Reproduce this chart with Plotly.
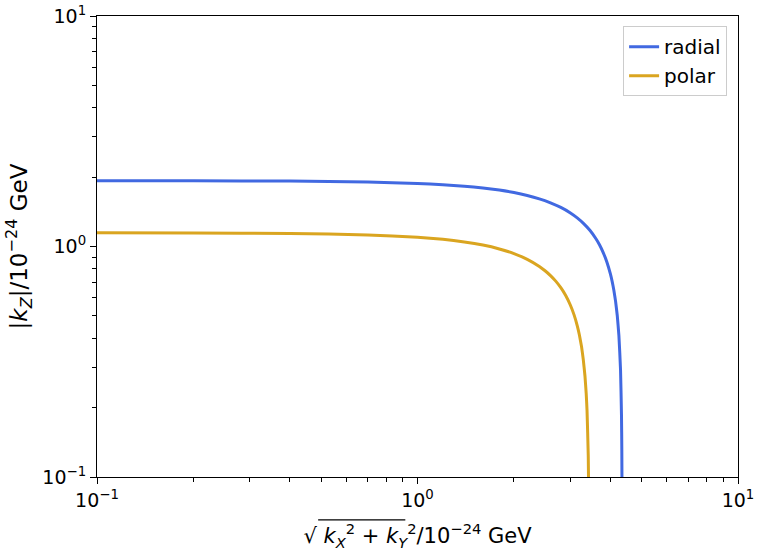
import plotly.graph_objects as go

# Values
radial_x = [0.1, 0.2, 0.4, 0.7, 1.0, 1.2, 1.4, 1.6, 1.8, 2.0, 2.2, 2.4, 2.6, 2.8, 3.0, 3.15, 3.3,
            3.45, 3.6, 3.7, 3.8, 3.9, 4.0, 4.05, 4.1, 4.15, 4.2, 4.25, 4.3, 4.33, 4.34, 4.345]
radial_y = [1.93, 1.928, 1.922, 1.905, 1.878, 1.855, 1.827, 1.795, 1.757, 1.714, 1.665, 1.610,
            1.547, 1.477, 1.398, 1.331, 1.257, 1.176, 1.083, 1.015, 0.939, 0.855, 0.758, 0.704,
            0.645, 0.578, 0.502, 0.411, 0.292, 0.185, 0.131, 0.0926]

polar_x = [0.1, 0.2, 0.4, 0.7, 1.0, 1.2, 1.4, 1.6, 1.8, 2.0, 2.2, 2.4, 2.5, 2.6, 2.7, 2.8, 2.9,
           3.0, 3.08, 3.15, 3.2, 3.25, 3.29, 3.33, 3.36, 3.38, 3.41, 3.42]
polar_y = [1.146, 1.145, 1.139, 1.123, 1.097, 1.0745, 1.047, 1.0146, 0.976, 0.932, 0.880, 0.8195,
           0.785, 0.748, 0.7074, 0.6625, 0.6125, 0.556, 0.505, 0.454, 0.413, 0.367, 0.324, 0.275,
           0.2305, 0.195, 0.124, 0.0875]

major_vals = [0.1, 1, 10]
major_text = ["10<sup>−1</sup>", "10<sup>0</sup>", "10<sup>1</sup>"]
minor_vals = [0.2, 0.3, 0.4, 0.5, 0.6, 0.7, 0.8, 0.9, 2, 3, 4, 5, 6, 7, 8, 9]

FONT = "DejaVu Sans"

fig = go.Figure()
fig.add_trace(go.Scatter(x=radial_x, y=radial_y, mode="lines", name="radial",
                         line=dict(color="#4169E1", width=3, shape="spline", smoothing=0.4)))
fig.add_trace(go.Scatter(x=polar_x, y=polar_y, mode="lines", name="polar",
                         line=dict(color="#DAA520", width=3, shape="spline", smoothing=0.4)))

axis_common = dict(
    type="log", showgrid=False, zeroline=False, automargin=False,
    showline=True, linecolor="black", linewidth=1.2, mirror=True,
    ticks="outside", ticklen=6, tickwidth=1.2, tickcolor="black",
    tickvals=major_vals, ticktext=major_text,
    tickfont=dict(family=FONT, size=19, color="black"),
    minor=dict(ticks="outside", ticklen=3.5, tickwidth=1, tickcolor="black",
               tickvals=minor_vals),
)

fig.update_xaxes(range=[-1, 1], **axis_common,
                 title=dict(text="√ <i>k</i><sub><i>X</i></sub><sup>2</sup> + <i>k</i><sub><i>Y</i></sub><sup>2</sup>/10<sup>−24</sup> GeV",
                            font=dict(family=FONT, size=21, color="black"), standoff=18))
fig.update_yaxes(range=[-1, 1], **axis_common,
                 title=dict(text="|<i>k</i><sub><i>Z</i></sub>|/10<sup>−24</sup> GeV",
                            font=dict(family=FONT, size=23, color="black"), standoff=8))

# overline of the square-root sign in the x-axis title
fig.add_shape(type="line", xref="paper", yref="paper",
              x0=0.345, x1=0.481, y0=-0.093, y1=-0.093,
              line=dict(color="black", width=1.2))

fig.update_layout(
    width=760, height=559,
    margin=dict(l=97, r=22, t=16, b=82),
    paper_bgcolor="white", plot_bgcolor="white",
    font=dict(family=FONT, color="black"),
    legend=dict(x=0.983, y=0.978, xanchor="right", yanchor="top",
                bgcolor="rgba(255,255,255,0.8)", bordercolor="#cccccc", borderwidth=1,
                font=dict(family=FONT, size=20, color="black")),
)

fig.write_html("out.html")
